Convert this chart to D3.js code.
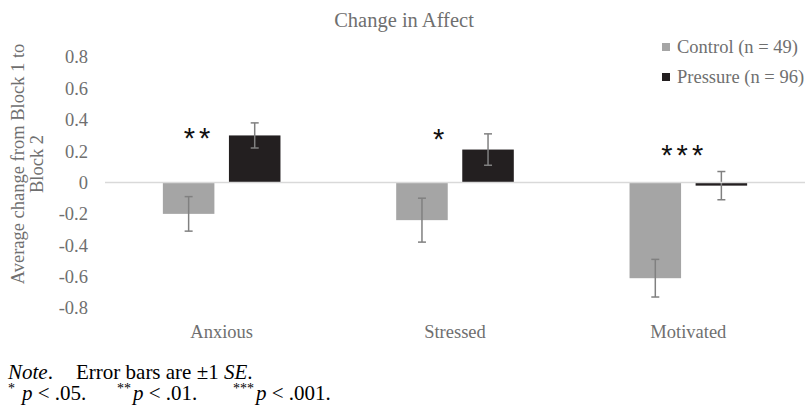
<!DOCTYPE html>
<html>
<head>
<meta charset="utf-8">
<script src="https://cdn.jsdelivr.net/npm/d3@7"></script>
<style>
  html, body { margin: 0; padding: 0; background: #fff; }
  svg { display: block; }
</style>
</head>
<body>
<svg id="chart" width="808" height="409"></svg>
<script>
// Mean change in affect (Block 2 minus Block 1) with standard errors
const categories = ["Anxious", "Stressed", "Motivated"];
const seriesNames = ["Control (n = 49)", "Pressure (n = 96)"];
const controlMeans = [-0.20, -0.24, -0.61];
const pressureMeans = [0.30, 0.21, -0.02];
const controlSE = [0.11, 0.14, 0.12];
const pressureSE = [0.08, 0.10, 0.09];
const significance = ["**", "*", "***"];
const yTicks = [-0.8, -0.6, -0.4, -0.2, 0, 0.2, 0.4, 0.6, 0.8];
const tickLabels = ["-0.8", "-0.6", "-0.4", "-0.2", "0", "0.2", "0.4", "0.6", "0.8"];

const colors = ["#a5a5a5", "#231f20"];
const textGray = "#6f6f6f";
const SERIF = "'Liberation Serif', 'Times New Roman', serif";

const svg = d3.select("#chart");

const x0 = d3.scaleBand().domain(categories).range([105, 805])
  .paddingInner(0.496).paddingOuter(0.248);
const x1 = d3.scaleBand().domain(seriesNames).range([0, x0.bandwidth()])
  .paddingInner(0.22).paddingOuter(0);
const y = d3.scaleLinear().domain([-0.8, 0.8]).range([308, 57]);
const catCenter = c => x0(c) + x0.bandwidth() / 2;

const rows = categories.map((c, i) => ({
  category: c,
  values: [
    { series: seriesNames[0], mean: controlMeans[i], se: controlSE[i], color: colors[0] },
    { series: seriesNames[1], mean: pressureMeans[i], se: pressureSE[i], color: colors[1] }
  ]
}));

// Title
svg.append("text")
  .attr("x", 404).attr("y", 27)
  .attr("text-anchor", "middle")
  .attr("fill", textGray)
  .attr("font-family", SERIF)
  .attr("font-size", 20.5)
  .text("Change in Affect");

// Y axis tick labels (no axis line, no gridlines)
const yAxis = d3.axisLeft(y).tickValues(yTicks)
  .tickFormat((d, i) => tickLabels[i]).tickSize(0).tickPadding(0);
const gy = svg.append("g").attr("transform", "translate(88,0)").call(yAxis)
  .attr("font-family", SERIF).attr("font-size", 18.5);
gy.select(".domain").remove();
gy.selectAll("text")
  .attr("fill", textGray)
  .attr("font-size", 18.5)
  .attr("font-family", SERIF);

// Y axis title, two lines
const yTitle = svg.append("text")
  .attr("transform", "translate(24,164) rotate(-90)")
  .attr("text-anchor", "middle")
  .attr("fill", textGray)
  .attr("font-family", SERIF)
  .attr("font-size", 18.5);
yTitle.append("tspan").attr("x", 0).attr("dy", 0).text("Average change from Block 1 to");
yTitle.append("tspan").attr("x", 0).attr("dy", 18.5).text("Block 2");

// Bars
const groups = svg.append("g").selectAll("g")
  .data(rows).join("g")
  .attr("transform", d => `translate(${x0(d.category)},0)`);

groups.selectAll("rect")
  .data(d => d.values).join("rect")
  .attr("x", d => x1(d.series))
  .attr("width", x1.bandwidth())
  .attr("y", d => y(Math.max(0, d.mean)))
  .attr("height", d => Math.abs(y(d.mean) - y(0)))
  .attr("fill", d => d.color);

// Zero line
svg.append("line")
  .attr("x1", 105).attr("x2", 805)
  .attr("y1", y(0)).attr("y2", y(0))
  .attr("stroke", "#d9d9d9").attr("stroke-width", 1.5);

// Error bars (±1 SE)
const eb = groups.selectAll("g.err")
  .data(d => d.values).join("g")
  .attr("class", "err")
  .attr("stroke", "#808080").attr("stroke-width", 1.5);
const cx = d => x1(d.series) + x1.bandwidth() / 2;
eb.append("line")
  .attr("x1", cx).attr("x2", cx)
  .attr("y1", d => y(d.mean + d.se)).attr("y2", d => y(d.mean - d.se));
eb.append("line")
  .attr("x1", d => cx(d) - 4).attr("x2", d => cx(d) + 4)
  .attr("y1", d => y(d.mean + d.se)).attr("y2", d => y(d.mean + d.se));
eb.append("line")
  .attr("x1", d => cx(d) - 4).attr("x2", d => cx(d) + 4)
  .attr("y1", d => y(d.mean - d.se)).attr("y2", d => y(d.mean - d.se));

// Category labels
svg.append("g").selectAll("text")
  .data(categories).join("text")
  .attr("x", d => catCenter(d))
  .attr("y", 338)
  .attr("text-anchor", "middle")
  .attr("fill", textGray)
  .attr("font-family", SERIF)
  .attr("font-size", 18.5)
  .text(d => d);

// Significance markers above each category
const starOffsets = [-38, -22, -27];
const starHeights = [0.33, 0.325, 0.22];
svg.append("g").selectAll("text")
  .data(categories).join("text")
  .attr("x", (d, i) => catCenter(d) + starOffsets[i])
  .attr("y", (d, i) => y(starHeights[i]) + 17)
  .attr("fill", "#111")
  .attr("font-family", "'Liberation Sans', Arial, sans-serif")
  .attr("font-size", 29)
  .attr("letter-spacing", 4)
  .text((d, i) => significance[i]);

// Legend
const legend = svg.append("g").selectAll("g")
  .data(seriesNames).join("g")
  .attr("transform", (d, i) => `translate(662,${47 + i * 30})`);
legend.append("rect")
  .attr("x", 0).attr("y", -4).attr("width", 8).attr("height", 8)
  .attr("fill", (d, i) => colors[i]);
legend.append("text")
  .attr("x", 15).attr("y", 6)
  .attr("fill", textGray)
  .attr("font-family", SERIF)
  .attr("font-size", 18.5)
  .text(d => d);

// Footnote
const note1 = svg.append("text").attr("x", 8).attr("y", 379)
  .attr("fill", "#000").attr("font-family", SERIF).attr("font-size", 21);
note1.append("tspan").attr("font-style", "italic").text("Note");
note1.append("tspan").text(".");
note1.append("tspan").attr("x", 76).text("Error bars are ±1 ");
note1.append("tspan").attr("font-style", "italic").text("SE");
note1.append("tspan").text(".");

// Probability levels: superscript stars, then italic p
const pLevels = [["*", ".05.", 8, 22], ["**", ".01.", 117, 133], ["***", ".001.", 233, 256]];
const note2 = svg.append("g").attr("fill", "#000").attr("font-family", SERIF);
pLevels.forEach(([s, v, sx, px]) => {
  note2.append("text").attr("x", sx).attr("y", 393).attr("font-size", 14).text(s);
  const t = note2.append("text").attr("x", px).attr("y", 400).attr("font-size", 21);
  t.append("tspan").attr("font-style", "italic").text("p");
  t.append("tspan").text(" < " + v);
});
</script>
</body>
</html>
